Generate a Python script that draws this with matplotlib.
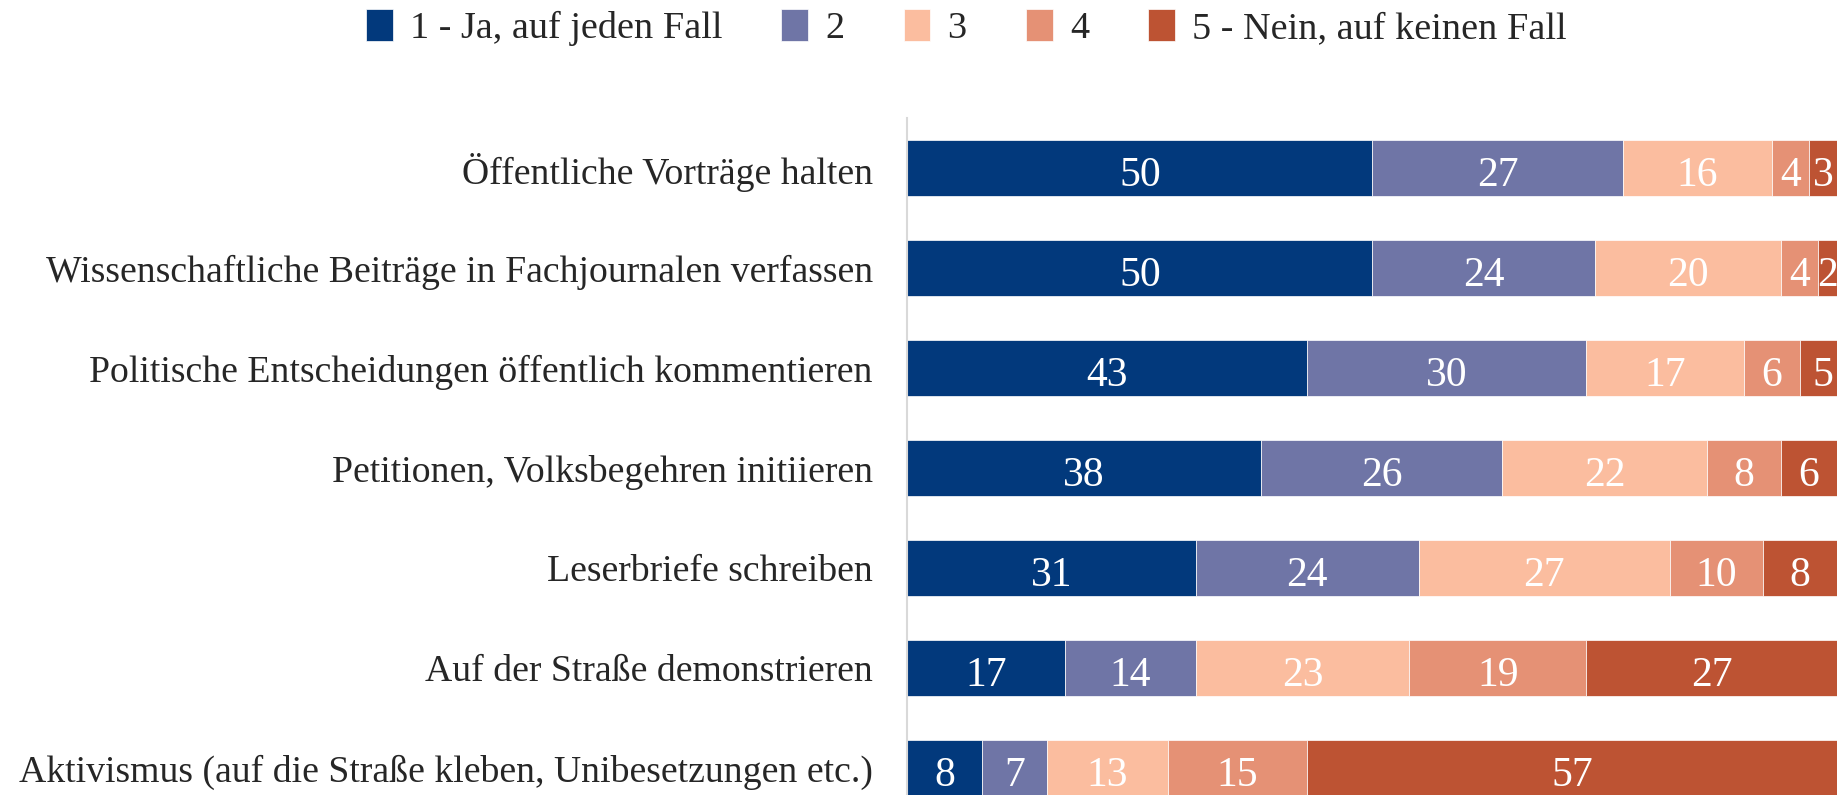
import matplotlib
matplotlib.use("Agg")
import matplotlib.pyplot as plt
import numpy as np

categories = [
    "Öffentliche Vorträge halten",
    "Wissenschaftliche Beiträge in Fachjournalen verfassen",
    "Politische Entscheidungen öffentlich kommentieren",
    "Petitionen, Volksbegehren initiieren",
    "Leserbriefe schreiben",
    "Auf der Straße demonstrieren",
    "Aktivismus (auf die Straße kleben, Unibesetzungen etc.)",
]
series_names = ["1 - Ja, auf jeden Fall", "2", "3", "4", "5 - Nein, auf keinen Fall"]
ans1 = [50, 50, 43, 38, 31, 17, 8]
ans2 = [27, 24, 30, 26, 24, 14, 7]
ans3 = [16, 20, 17, 22, 27, 23, 13]
ans4 = [4, 4, 6, 8, 10, 19, 15]
ans5 = [3, 2, 5, 6, 8, 27, 57]
colors = ["#02397C", "#6F75A6", "#FBBD9F", "#E59175", "#BD5333"]

plt.rcParams['font.family'] = ['Liberation Serif', 'DejaVu Serif']

fig = plt.figure(figsize=(18.37, 7.95), dpi=100)
ax = fig.add_axes([0.494, -0.029, 0.506, 0.8805])

y = np.arange(len(categories))
left = np.zeros(len(categories))
for name, vals, col in zip(series_names, [ans1, ans2, ans3, ans4, ans5], colors):
    vals = np.array(vals, dtype=float)
    ax.barh(y, vals, left=left, height=0.56, color=col, label=name,
            edgecolor="white", linewidth=0.5)
    for yi, l, v in zip(y, left, vals):
        ax.text(l + v / 2, yi + 0.03, f"{v:.0f}", ha="center", va="center_baseline",
                color="white", fontsize=30)
    left += vals

ax.set_xlim(0, 100)
ax.set_ylim(len(categories) - 0.5, -0.5)
ax.set_yticks(y)
ax.set_yticklabels(categories, fontsize=27.2, color="#262626")
ax.tick_params(axis="y", length=0, pad=25)
ax.set_xticks([])
for s in ["top", "right", "bottom"]:
    ax.spines[s].set_visible(False)
ax.spines["left"].set_color("#D9D9D9")
ax.spines["left"].set_linewidth(1.5)

fig.legend(loc="center", bbox_to_anchor=(0.526, 0.965), ncol=5, frameon=False,
           fontsize=27.5, handlelength=0.7, handleheight=0.9, handletextpad=0.45,
           columnspacing=1.55, labelcolor="#262626")

fig.savefig("out.png", dpi=100)
